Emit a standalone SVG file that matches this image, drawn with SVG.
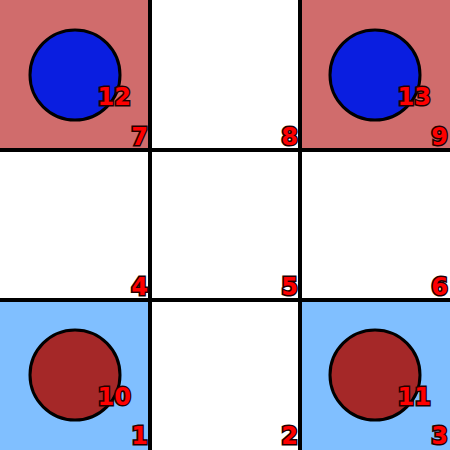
<svg xmlns="http://www.w3.org/2000/svg" width="450" height="450" viewBox="0 0 450 450">
<style>
.lbl{font-family:"DejaVu Sans",sans-serif;font-weight:bold;font-size:24px;fill:#ff0000;stroke:#220000;stroke-width:3px;paint-order:stroke;text-anchor:end}
.c{stroke:#000;stroke-width:3}
.g{stroke:#000;stroke-width:4}
</style>
<rect width="450" height="450" fill="#fff"/>
<g id="cell7"><rect x="0" y="0" width="150" height="150" fill="#d06c6c"/></g>
<g id="cell9"><rect x="300" y="0" width="150" height="150" fill="#d06c6c"/></g>
<g id="cell1"><rect x="0" y="300" width="150" height="150" fill="#80bfff"/></g>
<g id="cell3"><rect x="300" y="300" width="150" height="150" fill="#80bfff"/></g>
<g id="grid">
<line class="g" x1="150" y1="0" x2="150" y2="450"/>
<line class="g" x1="300" y1="0" x2="300" y2="450"/>
<line class="g" x1="0" y1="150" x2="450" y2="150"/>
<line class="g" x1="0" y1="300" x2="450" y2="300"/>
</g>
<g id="n12"><circle class="c" cx="75" cy="75" r="45" fill="#0a1ee0"/><text class="lbl" x="131" y="105">12</text></g>
<g id="n13"><circle class="c" cx="375" cy="75" r="45" fill="#0a1ee0"/><text class="lbl" x="431" y="105">13</text></g>
<g id="n10"><circle class="c" cx="75" cy="375" r="45" fill="#a52828"/><text class="lbl" x="131" y="405">10</text></g>
<g id="n11"><circle class="c" cx="375" cy="375" r="45" fill="#a52828"/><text class="lbl" x="431" y="405">11</text></g>
<g id="labels">
<text class="lbl" x="148" y="145">7</text>
<text class="lbl" x="298" y="145">8</text>
<text class="lbl" x="448" y="145">9</text>
<text class="lbl" x="148" y="295">4</text>
<text class="lbl" x="298" y="295">5</text>
<text class="lbl" x="448" y="295">6</text>
<text class="lbl" x="148" y="444">1</text>
<text class="lbl" x="298" y="444">2</text>
<text class="lbl" x="448" y="444">3</text>
</g>
</svg>
